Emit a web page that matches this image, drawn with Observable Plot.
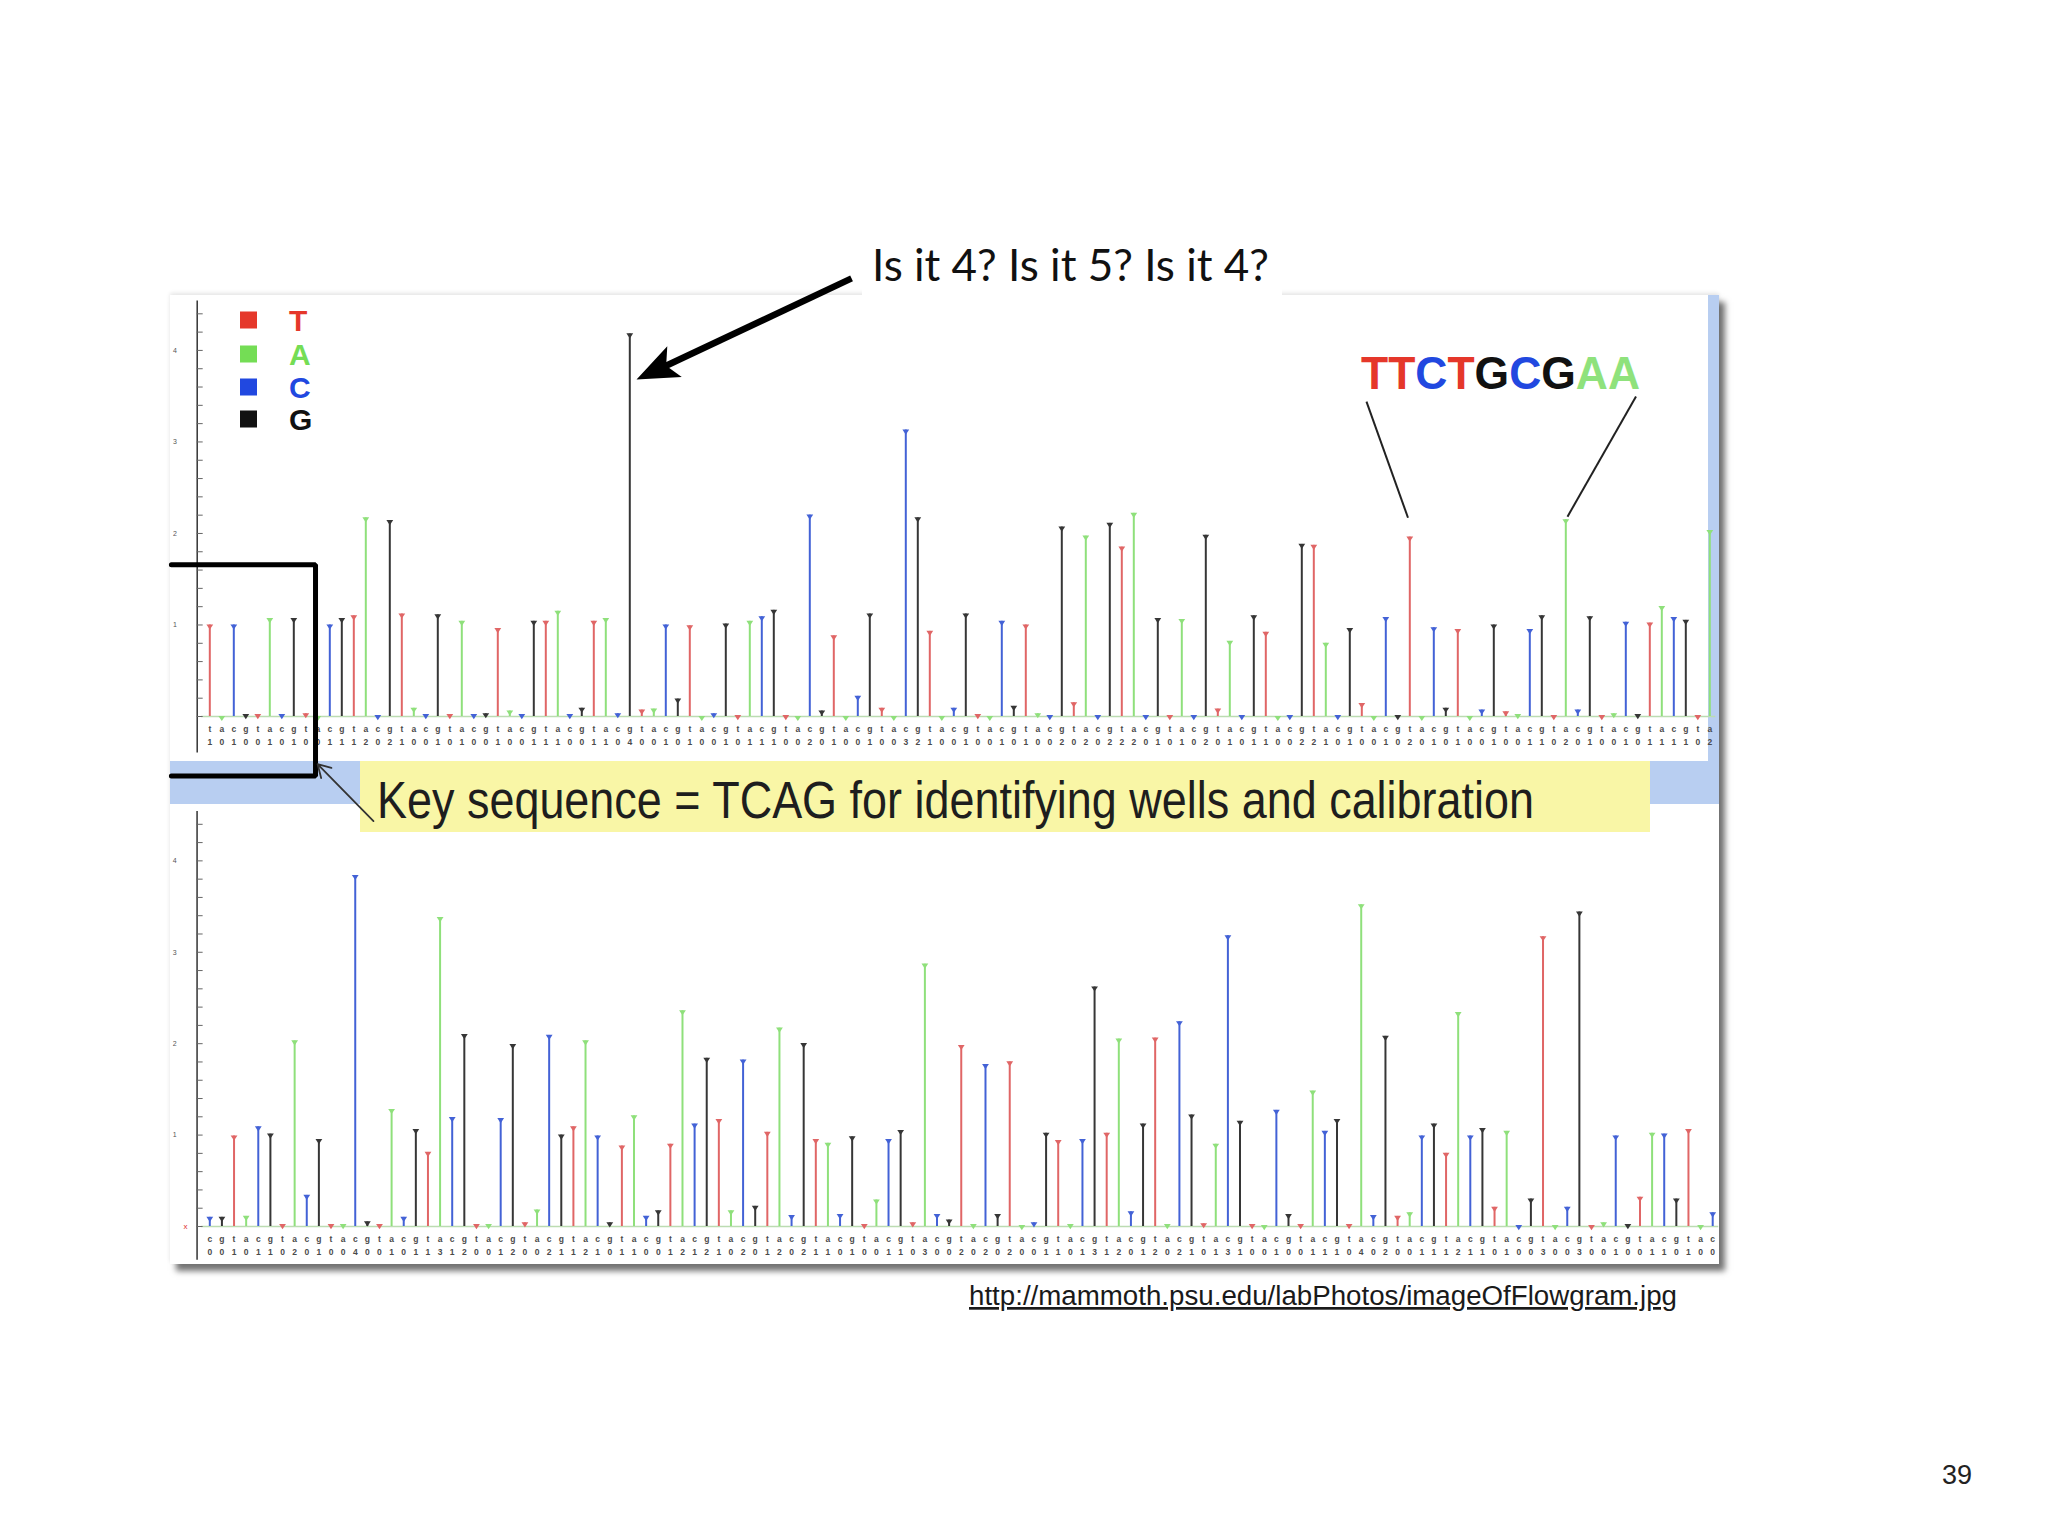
<!DOCTYPE html>
<html><head><meta charset="utf-8">
<script src="https://cdn.jsdelivr.net/npm/d3@7"></script>
<script src="https://cdn.jsdelivr.net/npm/@observablehq/plot@0.6"></script>
<style>
html,body{margin:0;padding:0;background:#fff;}
#slide{position:relative;width:2048px;height:1536px;overflow:hidden;background:#fff;}
.abs{position:absolute;}
#frame{left:170px;top:295px;width:1549px;height:969px;background:#fff;box-shadow:6px 7px 6px rgba(0,0,0,0.55),0 -2px 4px rgba(0,0,0,0.10);}
#band{left:170px;top:761px;width:1549px;height:43px;background:#b8cef1;}
#strip{left:1708px;top:295px;width:11px;height:466px;background:#b8cef1;}
#yellow{left:360px;top:761px;width:1290px;height:71px;background:#f9f6a6;}
#topPanel{left:170px;top:230px;width:1549px;height:600px;}
#bottomPanel{left:170px;top:803px;width:1549px;height:461px;}
</style></head><body>
<div id="slide">
  <div class="abs" id="frame"></div>
  <div class="abs" id="band"></div>
  <div class="abs" id="strip"></div>
  <div class="abs" id="yellow"></div>
  <div class="abs" id="topPanel"></div>
  <div class="abs" id="bottomPanel"></div>
</div>
<script>
// ---- data ----
const bases = ["T", "A", "C", "G"];
const baseColors = ["#e06666", "#8fe07b", "#4362d6", "#363636"];
const legendColors = ["#e5372a", "#74dd55", "#2148e0", "#111111"];
const topStartBase = 0;     // first flow of top panel is T
const bottomStartBase = 2;  // first flow of bottom panel is C

const topValues = [
  1.00,0.00,1.00,0.02, 0.02,1.07,0.02,1.07, 0.03,0.00,1.00,1.07, 1.10,2.17,0.01,2.14,
  1.12,0.09,0.02,1.11, 0.02,1.04,0.02,0.03, 0.96,0.06,0.02,1.04, 1.04,1.15,0.02,0.09,
  1.04,1.07,0.03,4.18, 0.07,0.08,1.00,0.19, 0.99,0.00,0.03,1.01, 0.01,1.04,1.09,1.16,
  0.01,0.00,2.20,0.06, 0.88,0.00,0.22,1.12, 0.09,0.00,3.13,2.17, 0.93,0.00,0.09,1.12,
  0.02,0.00,1.04,0.11, 1.00,0.03,0.01,2.07, 0.15,1.97,0.01,2.11, 1.85,2.22,0.01,1.07,
  0.01,1.06,0.01,1.98, 0.08,0.82,0.01,1.10, 0.92,0.00,0.01,1.88, 1.87,0.80,0.01,0.96,
  0.14,0.00,1.08,0.01, 1.96,0.00,0.97,0.09, 0.95,0.00,0.07,1.00, 0.05,0.02,0.95,1.10,
  0.01,2.15,0.07,1.09, 0.01,0.03,1.03,0.02, 1.02,1.20,1.08,1.05, 0.01,2.03
];
const bottomValues = [
  0.10,0.10,0.99,0.11, 1.09,1.01,0.02,2.03, 0.34,0.95,0.02,0.02, 3.84,0.05,0.02,1.28,
  0.10,1.06,0.81,3.38, 1.19,2.10,0.02,0.02, 1.18,1.99,0.04,0.18, 2.09,1.00,1.09,2.03,
  0.99,0.04,0.88,1.21, 0.11,0.17,0.90,2.36, 1.12,1.84,1.17,0.17, 1.82,0.22,1.03,2.17,
  0.12,2.00,0.95,0.91, 0.13,0.98,0.02,0.29, 0.95,1.05,0.04,2.87, 0.13,0.07,1.98,0.02,
  1.77,0.13,1.80,0.01, 0.04,1.02,0.94,0.02, 0.95,2.62,1.02,2.05, 0.16,1.12,2.06,0.02,
  2.24,1.22,0.03,0.90, 3.18,1.15,0.02,0.01, 1.27,0.13,0.02,1.48, 1.04,1.17,0.02,3.52,
  0.12,2.08,0.11,0.15, 0.99,1.12,0.80,2.34, 0.99,1.07,0.21,1.04, 0.01,0.30,3.17,0.01,
  0.21,3.44,0.01,0.04, 0.99,0.02,0.32,1.02, 1.01,0.30,1.06,0.01, 0.15
];
const yTickLabels = [1, 2, 3, 4];
const titleText = "Is it 4? Is it 5? Is it 4?";
const keyText = "Key sequence = TCAG for identifying wells and calibration";
const seqLetters = ["T", "T", "C", "T", "G", "C", "G", "A", "A"];
const urlText = "http://mammoth.psu.edu/labPhotos/imageOfFlowgram.jpg";
const pageNumber = "39";

// annotation anchors in data space (flow index, signal)
const bigArrow = [{x1: 53.48, y1: 4.787, x2: 35.56, y2: 3.681}];
const seqLinks = [
  {x1: 96.39, y1: 3.441, x2: 99.85, y2: 2.172},
  {x1: 118.85, y1: 3.496, x2: 113.14, y2: 2.183}
];
const keyBox = [{x: -3.2, y: 1.657}, {x: 8.81, y: 1.657}, {x: 8.81, y: -0.651}, {x: -3.2, y: -0.651}];
const keyArrow = [{x1: 13.64, y1: -1.143, x2: 8.98, y2: -0.52}];

// ---- helpers ----
const flows = (values, start) => values.map((v, i) => ({i, v, base: bases[(i + start) % 4]}));
const capSymbol = {draw(ctx) { ctx.moveTo(-3.4, -0.6); ctx.lineTo(3.4, -0.6); ctx.lineTo(0, 4.6); ctx.closePath(); }};
const minorTicks = d3.range(0, 4.41, 0.2);
const Y_MAX = 4.54;
const AXIS_X = -1.05;

function stemMarks(data, xMax) {
  return [
    Plot.ruleY([0], {x1: -0.7, x2: xMax + 0.5, stroke: "#bcdcb2", strokeWidth: 1.6}),
    Plot.ruleX(data, {x: "i", y1: 0, y2: "v", stroke: "base", strokeWidth: 2}),
    Plot.dot(data, {x: "i", y: "v", symbol: capSymbol, fill: "base", stroke: "none", r: 4}),
    Plot.text(data, {x: "i", y: 0, dy: 13, text: d => d.base.toLowerCase(), fontSize: 8.5, fill: "#4a4a4a", fontFamily: "Liberation Sans", fontWeight: "bold"}),
    Plot.text(data, {x: "i", y: 0, dy: 26, text: d => String(Math.round(d.v)), fontSize: 8.5, fill: "#4a4a4a", fontFamily: "Liberation Sans", fontWeight: "bold"}),
    Plot.ruleY(minorTicks, {x1: AXIS_X, x2: AXIS_X + 0.5, stroke: "#666", strokeWidth: 1}),
    Plot.text(yTickLabels, {x: -2.9, y: d => d, text: d => String(d), fontSize: 7, fill: "#555", fontFamily: "Liberation Sans"})
  ];
}

// ---- top panel ----
const topData = flows(topValues, topStartBase);
// shorten the thick arrow line so it ends inside the filled head
const XK = 12, YK = 91.5, HEAD_L = 42, HEAD_W = 17;
const a = bigArrow[0];
const sx = (a.x2 - a.x1) * XK, sy = -(a.y2 - a.y1) * YK;
const len = Math.hypot(sx, sy), ux = sx / len, uy = sy / len;
const bigArrowLine = [{x1: a.x1, y1: a.y1, x2: a.x2 - ux * HEAD_L * 0.75 / XK, y2: a.y2 + uy * HEAD_L * 0.75 / YK}];
const headSymbol = {draw(ctx) {
  const nx = -uy, ny = ux;
  const bx = -ux * HEAD_L, by = -uy * HEAD_L;
  ctx.moveTo(0, 0);
  ctx.lineTo(bx + nx * HEAD_W, by + ny * HEAD_W);
  ctx.lineTo(-ux * HEAD_L * 0.78, -uy * HEAD_L * 0.78);
  ctx.lineTo(bx - nx * HEAD_W, by - ny * HEAD_W);
  ctx.closePath();
}};

const topPlot = Plot.plot({
  width: 1549, height: 600,
  marginLeft: 39.3, marginRight: 9.7, marginTop: 70.5, marginBottom: 114,
  x: {domain: [0, 125], axis: null},
  y: {domain: [0, Y_MAX], axis: null},
  color: {domain: bases, range: baseColors},
  style: {background: "transparent", overflow: "visible"},
  marks: [
    Plot.ruleX([AXIS_X], {y1: -0.40, y2: Y_MAX, stroke: "#333", strokeWidth: 1.5}),
    ...stemMarks(topData, 125),
    Plot.line(keyBox, {x: "x", y: "y", stroke: "#000", strokeWidth: 5, strokeLinejoin: "miter"}),
    Plot.arrow(keyArrow, {x1: "x1", y1: "y1", x2: "x2", y2: "y2", stroke: "#333", strokeWidth: 1.8, headLength: 12}),
    Plot.link(seqLinks, {x1: "x1", y1: "y1", x2: "x2", y2: "y2", stroke: "#222", strokeWidth: 2}),
    Plot.link(bigArrowLine, {x1: "x1", y1: "y1", x2: "x2", y2: "y2", stroke: "#000", strokeWidth: 6.5}),
    Plot.dot(bigArrow, {x: "x2", y: "y2", symbol: headSymbol, fill: "#000", stroke: "none", r: 10})
  ]
});
document.getElementById("topPanel").appendChild(topPlot);

// ---- bottom panel ----
const bottomData = flows(bottomValues, bottomStartBase);
const bottomPlot = Plot.plot({
  width: 1549, height: 461,
  marginLeft: 39.3, marginRight: 6.8, marginTop: 8, marginBottom: 38,
  x: {domain: [0, 124], axis: null},
  y: {domain: [0, Y_MAX], axis: null},
  color: {domain: bases, range: baseColors},
  style: {background: "transparent", overflow: "visible"},
  marks: [
    Plot.ruleX([AXIS_X], {y1: -0.37, y2: Y_MAX, stroke: "#333", strokeWidth: 1.5}),
    ...stemMarks(bottomData, 124),
    Plot.text([0], {x: -2.0, y: 0, text: () => "x", fontSize: 8, fill: "#e03030", fontFamily: "Liberation Sans"})
  ]
});
document.getElementById("bottomPanel").appendChild(bottomPlot);

// ---- overlay texts: title, legend, callouts, source, page number ----
const ov = d3.select("#slide").append("svg")
  .attr("width", 2048).attr("height", 1536)
  .style("position", "absolute").style("left", "0px").style("top", "0px");

ov.append("rect").attr("x", 862).attr("y", 243).attr("width", 420).attr("height", 52).attr("fill", "#fff");
ov.append("text").attr("x", 872).attr("y", 281)
  .attr("font-family", "Lato, 'Open Sans', sans-serif").attr("font-size", 44).attr("fill", "#111")
  .attr("textLength", 397).attr("lengthAdjust", "spacingAndGlyphs").text(titleText);

// legend
const legendY = [320, 354, 387, 419];
bases.forEach((b, k) => {
  ov.append("rect").attr("x", 240).attr("y", legendY[k] - 8.5).attr("width", 17).attr("height", 17).attr("fill", legendColors[k]);
  ov.append("text").attr("x", 289).attr("y", legendY[k] + 11)
    .attr("font-family", "'Liberation Sans', Arial, sans-serif").attr("font-weight", "bold")
    .attr("font-size", 30).attr("fill", legendColors[k]).text(b);
});

// sequence callout
const seqColor = {T: "#e5372a", C: "#2148e0", G: "#111111", A: "#8fe27c"};
const seqText = ov.append("text").attr("x", 1361).attr("y", 389)
  .attr("font-family", "'Liberation Sans', Arial, sans-serif").attr("font-weight", "bold")
  .attr("font-size", 47).attr("textLength", 279).attr("lengthAdjust", "spacingAndGlyphs");
seqLetters.forEach(l => seqText.append("tspan").attr("fill", seqColor[l]).text(l));

// key-sequence label (sits on the yellow box)
ov.append("text").attr("x", 377).attr("y", 818)
  .attr("font-family", "'Liberation Sans Narrow', 'Liberation Sans', Arial, sans-serif")
  .attr("font-size", 51).attr("fill", "#1e1e1e")
  .attr("textLength", 1157).attr("lengthAdjust", "spacingAndGlyphs").text(keyText);

// source url
ov.append("text").attr("x", 969).attr("y", 1305)
  .attr("font-family", "'Liberation Sans', Arial, sans-serif").attr("font-size", 27).attr("fill", "#1a1a1a")
  .attr("text-decoration", "underline")
  .attr("textLength", 708).attr("lengthAdjust", "spacingAndGlyphs").text(urlText);

// page number
ov.append("text").attr("x", 1942).attr("y", 1484)
  .attr("font-family", "'Liberation Sans', Arial, sans-serif").attr("font-size", 27).attr("fill", "#222")
  .text(pageNumber);
</script>
</body></html>
